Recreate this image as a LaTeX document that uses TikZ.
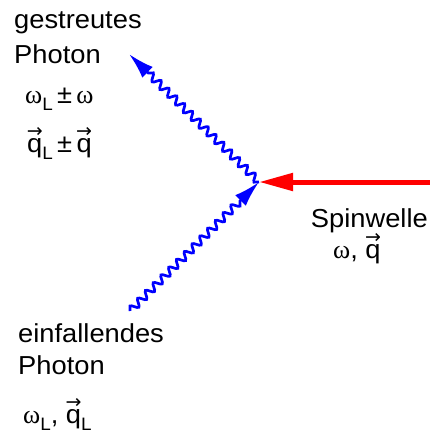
\documentclass[tikz,border=0pt]{standalone}
\usepackage{fontspec}
\usepackage{calc}
\setmainfont{Liberation Sans}[FakeStretch=1.05]
\newfontfamily\grk{Liberation Serif}
\newfontfamily\arr{DejaVu Sans}
\usetikzlibrary{decorations.pathmorphing,arrows.meta}
\newcommand\om{{\grk ω}}
\newcommand\subL{\raisebox{-0.27em}{\fontsize{18}{18}\selectfont L}}
\newcommand\qv{\leavevmode\makebox[0pt][l]{\makebox[\widthof{q}][c]{\raisebox{15pt}{\arr\fontsize{19}{19}\selectfont →}}}q}
\begin{document}
\begin{tikzpicture}[x=1pt,y=-1pt,
  lbl/.style={anchor=base west,inner sep=0pt,font=\fontsize{26}{30}\selectfont},
  lblr/.style={anchor=base east,inner sep=0pt,font=\fontsize{26}{30}\selectfont},
  photon/.style={blue,line width=2.7pt,decorate,decoration={snake,amplitude=3.6pt,segment length=11pt,post length=26pt}},
  phtip/.style={-{Latex[length=26pt,width=15pt]}},
  magnon/.style={red,line width=5pt,-{Triangle[length=34pt,width=17pt]}}]
\useasboundingbox (0,0) rectangle (430,437);
\coordinate (v) at (259,182);
\coordinate (in) at (130,311);
\coordinate (out) at (129,54);
\coordinate (sw) at (431,182);
\draw[magnon] (sw) -- (v);
\draw[photon,phtip] (in) -- (v);
\draw[photon,phtip] (v) -- (out);
\node[lbl] (g1) at (14,28) {gestreutes};
\node[lbl] (g2) at (14,63) {Photon};
\node[lbl] (g3) at (25,103) {\om\subL\,±\,\om};
\node[lbl] (g4) at (27,152) {\qv\subL\,±\,\qv};
\node[lblr] (s1) at (428,227) {Spinwelle};
\node[lbl] (s2) at (333,258) {\om, \qv};
\node[lbl] (e1) at (18,342) {einfallendes};
\node[lbl] (e2) at (18,374) {Photon};
\node[lbl] (e3) at (23,423) {\om\subL, \qv\subL};
\end{tikzpicture}
\end{document}
